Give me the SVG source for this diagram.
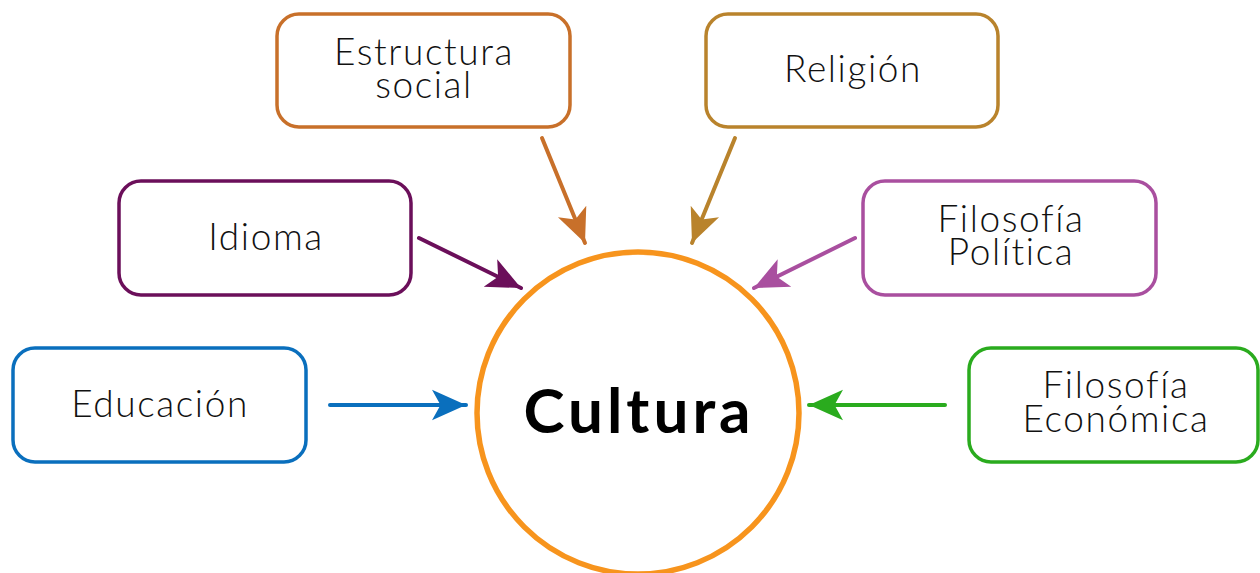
<svg xmlns="http://www.w3.org/2000/svg" width="1260" height="573" viewBox="0 0 1260 573">
<style>
.box{fill:#fff;stroke-width:3.5}
.t{font-family:Lato,"Noto Sans",sans-serif;font-weight:300;font-size:37px;letter-spacing:1.6px;fill:#111;text-anchor:middle}
.c{stroke-width:4;stroke-linecap:round;fill:none}
</style>
<defs>
<marker id="aE" viewBox="0 0 10 10" refX="10" refY="5" markerWidth="8.5" markerHeight="8.5" markerUnits="strokeWidth" orient="auto"><path d="M0,0.5L10,5L0,9.5L2.5,5z" fill="#c8702a"/></marker>
<marker id="aR" viewBox="0 0 10 10" refX="10" refY="5" markerWidth="8.5" markerHeight="8.5" markerUnits="strokeWidth" orient="auto"><path d="M0,0.5L10,5L0,9.5L2.5,5z" fill="#b9832c"/></marker>
<marker id="aI" viewBox="0 0 10 10" refX="10" refY="5" markerWidth="8.5" markerHeight="8.5" markerUnits="strokeWidth" orient="auto"><path d="M0,0.5L10,5L0,9.5L2.5,5z" fill="#6b0f5a"/></marker>
<marker id="aP" viewBox="0 0 10 10" refX="10" refY="5" markerWidth="8.5" markerHeight="8.5" markerUnits="strokeWidth" orient="auto"><path d="M0,0.5L10,5L0,9.5L2.5,5z" fill="#a94f9f"/></marker>
<marker id="aD" viewBox="0 0 10 10" refX="10" refY="5" markerWidth="8.5" markerHeight="8.5" markerUnits="strokeWidth" orient="auto"><path d="M0,0.5L10,5L0,9.5L2.5,5z" fill="#0a6fbd"/></marker>
<marker id="aC" viewBox="0 0 10 10" refX="10" refY="5" markerWidth="8.5" markerHeight="8.5" markerUnits="strokeWidth" orient="auto"><path d="M0,0.5L10,5L0,9.5L2.5,5z" fill="#2aab1e"/></marker>
</defs>
<rect width="1260" height="573" fill="#fff"/>
<g id="connectors">
<line class="c" stroke="#c8702a" x1="542" y1="138" x2="585" y2="243" marker-end="url(#aE)"/>
<line class="c" stroke="#b9832c" x1="735" y1="138" x2="692" y2="243" marker-end="url(#aR)"/>
<line class="c" stroke="#6b0f5a" x1="419" y1="238" x2="521" y2="288" marker-end="url(#aI)"/>
<line class="c" stroke="#a94f9f" x1="855" y1="238" x2="754" y2="288" marker-end="url(#aP)"/>
<line class="c" stroke="#0a6fbd" x1="330" y1="405" x2="466" y2="405" marker-end="url(#aD)"/>
<line class="c" stroke="#2aab1e" x1="945" y1="405" x2="809" y2="405" marker-end="url(#aC)"/>
</g>
<g id="cultura">
<circle cx="638" cy="413" r="161" fill="#fff" stroke="#f7941d" stroke-width="5.5"/>
<text x="639" y="433" font-family="Lato,'Noto Sans',sans-serif" font-weight="700" font-size="62" letter-spacing="4" fill="#000" text-anchor="middle">Cultura</text>
</g>
<g id="estructura">
<rect class="box" stroke="#c8702a" x="277" y="14" width="293" height="113" rx="22"/>
<text class="t" x="424" y="65">Estructura</text>
<text class="t" x="424" y="98">social</text>
</g>
<g id="religion">
<rect class="box" stroke="#b9832c" x="706" y="14" width="292" height="113" rx="22"/>
<text class="t" x="853" y="82">Religión</text>
</g>
<g id="idioma">
<rect class="box" stroke="#6b0f5a" x="119" y="181" width="292" height="114" rx="22"/>
<text class="t" x="266" y="250">Idioma</text>
</g>
<g id="filosofia-politica">
<rect class="box" stroke="#a94f9f" x="863" y="181" width="293" height="114" rx="22"/>
<text class="t" x="1011" y="232">Filosofía</text>
<text class="t" x="1011" y="265">Política</text>
</g>
<g id="educacion">
<rect class="box" stroke="#0a6fbd" x="13" y="348" width="293" height="114" rx="22"/>
<text class="t" x="160" y="417">Educación</text>
</g>
<g id="filosofia-economica">
<rect class="box" stroke="#2aab1e" x="969" y="348" width="289" height="114" rx="22"/>
<text class="t" x="1116" y="398">Filosofía</text>
<text class="t" x="1116" y="432">Económica</text>
</g>
</svg>
